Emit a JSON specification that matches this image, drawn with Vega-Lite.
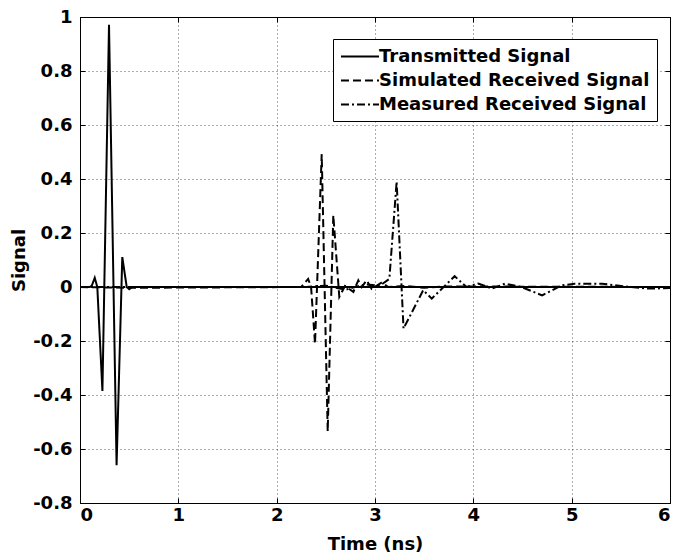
{
  "$schema": "https://vega.github.io/schema/vega-lite/v6.json",
  "width": 590,
  "height": 486,
  "autosize": {"type": "none"},
  "padding": {"left": 80, "top": 17, "right": 10, "bottom": 55},
  "background": "white",
  "config": {
    "font": "DejaVu Sans",
    "view": {"stroke": "black", "strokeWidth": 1},
    "axis": {
      "labelFont": "DejaVu Sans",
      "labelFontWeight": "bold",
      "labelFontSize": 18,
      "labelColor": "black",
      "titleFont": "DejaVu Sans",
      "titleFontWeight": "bold",
      "titleFontSize": 18,
      "titleColor": "black",
      "domainColor": "black",
      "tickColor": "black",
      "tickSize": -5,
      "gridColor": "#333333",
      "gridDash": [1, 3],
      "gridOpacity": 0.8,
      "gridWidth": 1
    },
    "legend": {
      "orient": "none",
      "legendX": 253,
      "legendY": 22,
      "symbolType": "M-1,0H3",
      "symbolSize": 361,
      "symbolStrokeWidth": 2,
      "symbolStrokeColor": "black",
      "labelFont": "DejaVu Sans",
      "labelFontWeight": "bold",
      "labelFontSize": 18,
      "labelColor": "black",
      "labelOffset": 18,
      "labelLimit": 400,
      "rowPadding": 4,
      "padding": 7,
      "strokeColor": "black",
      "fillColor": "white"
    }
  },
  "data": {
    "values": [
      {"s": "Transmitted Signal", "t": 0, "v": 0},
      {"s": "Transmitted Signal", "t": 0.1, "v": 0},
      {"s": "Transmitted Signal", "t": 0.12, "v": 0.005},
      {"s": "Transmitted Signal", "t": 0.15, "v": 0.034},
      {"s": "Transmitted Signal", "t": 0.176, "v": 0},
      {"s": "Transmitted Signal", "t": 0.228, "v": -0.385},
      {"s": "Transmitted Signal", "t": 0.295, "v": 0.971},
      {"s": "Transmitted Signal", "t": 0.372, "v": -0.66},
      {"s": "Transmitted Signal", "t": 0.43, "v": 0.111},
      {"s": "Transmitted Signal", "t": 0.475, "v": 0.0},
      {"s": "Transmitted Signal", "t": 0.5, "v": -0.008},
      {"s": "Transmitted Signal", "t": 0.53, "v": 0},
      {"s": "Transmitted Signal", "t": 6, "v": 0},

      {"s": "Simulated Received Signal", "t": 0, "v": 0},
      {"s": "Simulated Received Signal", "t": 0.5, "v": -0.003},
      {"s": "Simulated Received Signal", "t": 2.25, "v": 0},
      {"s": "Simulated Received Signal", "t": 2.32, "v": 0.03},
      {"s": "Simulated Received Signal", "t": 2.35, "v": 0},
      {"s": "Simulated Received Signal", "t": 2.39, "v": -0.21},
      {"s": "Simulated Received Signal", "t": 2.458, "v": 0.492},
      {"s": "Simulated Received Signal", "t": 2.519, "v": -0.535},
      {"s": "Simulated Received Signal", "t": 2.576, "v": 0.266},
      {"s": "Simulated Received Signal", "t": 2.637, "v": -0.037},
      {"s": "Simulated Received Signal", "t": 2.695, "v": 0.004},
      {"s": "Simulated Received Signal", "t": 2.78, "v": -0.018},
      {"s": "Simulated Received Signal", "t": 2.83, "v": 0.025},
      {"s": "Simulated Received Signal", "t": 2.865, "v": 0},
      {"s": "Simulated Received Signal", "t": 2.915, "v": 0.025},
      {"s": "Simulated Received Signal", "t": 2.966, "v": -0.007},
      {"s": "Simulated Received Signal", "t": 3.07, "v": 0.017},
      {"s": "Simulated Received Signal", "t": 3.135, "v": 0.0},
      {"s": "Simulated Received Signal", "t": 3.3, "v": 0.004},
      {"s": "Simulated Received Signal", "t": 3.5, "v": -0.003},
      {"s": "Simulated Received Signal", "t": 3.7, "v": 0.002},
      {"s": "Simulated Received Signal", "t": 6, "v": 0},

      {"s": "Measured Received Signal", "t": 0, "v": 0},
      {"s": "Measured Received Signal", "t": 2.3, "v": 0},
      {"s": "Measured Received Signal", "t": 2.5, "v": 0.005},
      {"s": "Measured Received Signal", "t": 2.7, "v": -0.01},
      {"s": "Measured Received Signal", "t": 2.9, "v": 0.01},
      {"s": "Measured Received Signal", "t": 3.05, "v": 0.005},
      {"s": "Measured Received Signal", "t": 3.146, "v": 0.03},
      {"s": "Measured Received Signal", "t": 3.22, "v": 0.39},
      {"s": "Measured Received Signal", "t": 3.29, "v": -0.154},
      {"s": "Measured Received Signal", "t": 3.49, "v": -0.012},
      {"s": "Measured Received Signal", "t": 3.577, "v": -0.043},
      {"s": "Measured Received Signal", "t": 3.81, "v": 0.04},
      {"s": "Measured Received Signal", "t": 3.93, "v": 0},
      {"s": "Measured Received Signal", "t": 4.05, "v": 0.013},
      {"s": "Measured Received Signal", "t": 4.19, "v": -0.006},
      {"s": "Measured Received Signal", "t": 4.32, "v": 0.012},
      {"s": "Measured Received Signal", "t": 4.49, "v": 0},
      {"s": "Measured Received Signal", "t": 4.7, "v": -0.031},
      {"s": "Measured Received Signal", "t": 4.9, "v": 0.006},
      {"s": "Measured Received Signal", "t": 5.03, "v": 0.012},
      {"s": "Measured Received Signal", "t": 5.31, "v": 0.012},
      {"s": "Measured Received Signal", "t": 5.6, "v": 0},
      {"s": "Measured Received Signal", "t": 5.78, "v": -0.006},
      {"s": "Measured Received Signal", "t": 6, "v": -0.004}
    ]
  },
  "layer": [
    {
      "mark": {"type": "line", "color": "black", "strokeWidth": 2, "clip": true},
      "encoding": {
        "x": {
          "field": "t",
          "type": "quantitative",
          "scale": {"domain": [0, 6], "nice": false, "zero": false},
          "axis": {"values": [0, 1, 2, 3, 4, 5, 6], "title": "Time (ns)", "labelPadding": 8, "titlePadding": 11, "grid": true}
        },
        "y": {
          "field": "v",
          "type": "quantitative",
          "scale": {"domain": [-0.8, 1], "nice": false, "zero": false},
          "axis": {
            "values": [-0.8, -0.6, -0.4, -0.2, 0, 0.2, 0.4, 0.6, 0.8, 1],
            "labelExpr": "datum.value < 0 ? '-' + format(-datum.value, '.1~f') : format(datum.value, '.1~f')",
            "title": "Signal",
            "labelPadding": 13,
            "titlePadding": 4,
            "grid": true
          }
        },
        "strokeDash": {
          "field": "s",
          "type": "nominal",
          "scale": {
            "domain": ["Transmitted Signal", "Simulated Received Signal", "Measured Received Signal"],
            "range": [[1, 0], [8, 4], [8, 3, 2, 3]]
          },
          "legend": {"title": null}
        }
      }
    },
    {
      "mark": {"type": "line", "opacity": 0},
      "encoding": {
        "x": {
          "field": "t",
          "type": "quantitative",
          "axis": {"orient": "top", "values": [0, 1, 2, 3, 4, 5, 6], "labels": false, "title": null, "grid": false}
        },
        "y": {
          "field": "v",
          "type": "quantitative",
          "axis": {"orient": "right", "values": [-0.8, -0.6, -0.4, -0.2, 0, 0.2, 0.4, 0.6, 0.8, 1], "labels": false, "title": null, "grid": false}
        },
        "detail": {"field": "s"}
      }
    }
  ],
  "resolve": {"axis": {"x": "independent", "y": "independent"}}
}
